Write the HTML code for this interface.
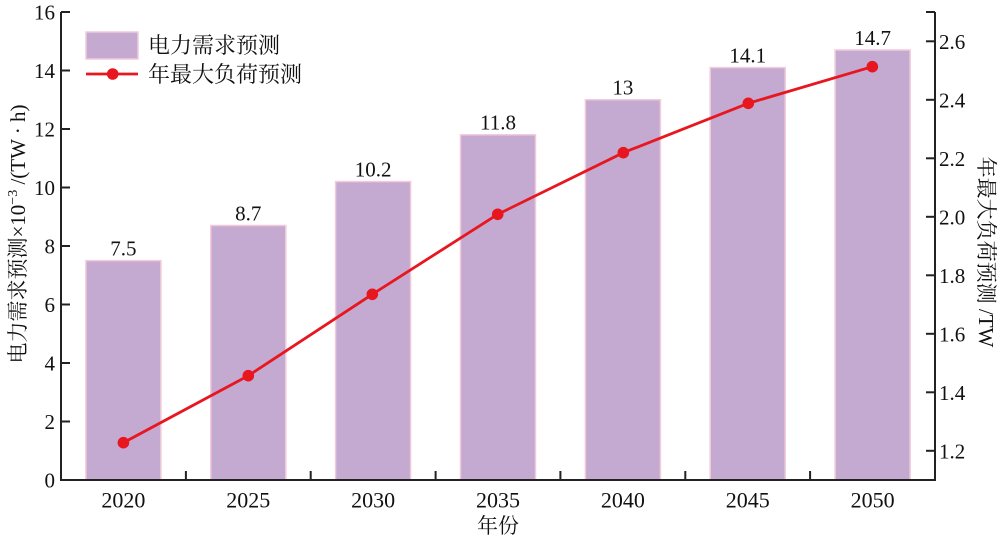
<!DOCTYPE html>
<html><head><meta charset="utf-8"><style>
html,body{margin:0;padding:0;background:#fff;}
svg{display:block;}
text{font-family:"Liberation Serif","Noto Serif CJK SC",serif;fill:#111;}
</style></head><body>
<svg width="1000" height="541" viewBox="0 0 1000 541" xmlns="http://www.w3.org/2000/svg">
<!-- bars -->
<g fill="#C4A9D1" stroke="#F2CADA" stroke-width="1.5">
<rect x="85.9" y="260.6" width="75" height="219.4"/>
<rect x="210.8" y="225.5" width="75" height="254.5"/>
<rect x="335.6" y="181.6" width="75" height="298.4"/>
<rect x="460.5" y="134.8" width="75" height="345.2"/>
<rect x="585.4" y="99.7" width="75" height="380.3"/>
<rect x="710.2" y="67.6" width="75" height="412.4"/>
<rect x="835.1" y="50.0" width="75" height="430"/>
</g>
<!-- bar labels -->
<g font-size="21" text-anchor="middle">
<text x="123.4" y="255.5">7.5</text>
<text x="248.3" y="220.3">8.7</text>
<text x="373.1" y="176.4">10.2</text>
<text x="498" y="129.6">11.8</text>
<text x="622.9" y="94.5">13</text>
<text x="747.7" y="62.4">14.1</text>
<text x="872.6" y="44.8">14.7</text>
</g>
<!-- line -->
<polyline fill="none" stroke="#E8161E" stroke-width="2.8" points="123.4,442.7 248.3,375.7 372.3,294.3 497.7,214.3 623.3,152.7 748.3,103.3 872.3,66.7"/>
<g fill="#E8161E">
<circle cx="123.4" cy="442.7" r="5.8"/>
<circle cx="248.3" cy="375.7" r="5.8"/>
<circle cx="372.3" cy="294.3" r="5.8"/>
<circle cx="497.7" cy="214.3" r="5.8"/>
<circle cx="623.3" cy="152.7" r="5.8"/>
<circle cx="748.3" cy="103.3" r="5.8"/>
<circle cx="872.3" cy="66.7" r="5.8"/>
</g>
<!-- axes -->
<g stroke="#222" stroke-width="2" fill="none">
<line x1="61" y1="12" x2="61" y2="481"/>
<line x1="935" y1="12" x2="935" y2="481"/>
<line x1="60" y1="480" x2="936" y2="480"/>
<!-- left ticks -->
<line x1="61" y1="12" x2="70" y2="12"/>
<line x1="61" y1="70.5" x2="70" y2="70.5"/>
<line x1="61" y1="129" x2="70" y2="129"/>
<line x1="61" y1="187.5" x2="70" y2="187.5"/>
<line x1="61" y1="246" x2="70" y2="246"/>
<line x1="61" y1="304.5" x2="70" y2="304.5"/>
<line x1="61" y1="363" x2="70" y2="363"/>
<line x1="61" y1="421.5" x2="70" y2="421.5"/>
<!-- right ticks -->
<line x1="926" y1="12" x2="935" y2="12"/>
<line x1="926" y1="41.3" x2="935" y2="41.3"/>
<line x1="926" y1="99.8" x2="935" y2="99.8"/>
<line x1="926" y1="158.3" x2="935" y2="158.3"/>
<line x1="926" y1="216.8" x2="935" y2="216.8"/>
<line x1="926" y1="275.3" x2="935" y2="275.3"/>
<line x1="926" y1="333.8" x2="935" y2="333.8"/>
<line x1="926" y1="392.3" x2="935" y2="392.3"/>
<line x1="926" y1="450.8" x2="935" y2="450.8"/>
<!-- x ticks -->
<line x1="185.9" y1="480" x2="185.9" y2="471"/>
<line x1="310.7" y1="480" x2="310.7" y2="471"/>
<line x1="435.6" y1="480" x2="435.6" y2="471"/>
<line x1="560.4" y1="480" x2="560.4" y2="471"/>
<line x1="685.3" y1="480" x2="685.3" y2="471"/>
<line x1="810.1" y1="480" x2="810.1" y2="471"/>
</g>
<!-- left tick labels -->
<g font-size="21" text-anchor="end">
<text x="55" y="19.5">16</text>
<text x="55" y="78">14</text>
<text x="55" y="136.5">12</text>
<text x="55" y="195">10</text>
<text x="55" y="253.5">8</text>
<text x="55" y="312">6</text>
<text x="55" y="370.5">4</text>
<text x="55" y="429">2</text>
<text x="55" y="487.5">0</text>
</g>
<!-- right tick labels -->
<g font-size="21" text-anchor="start">
<text x="939" y="48.8">2.6</text>
<text x="939" y="107.3">2.4</text>
<text x="939" y="165.8">2.2</text>
<text x="939" y="224.3">2.0</text>
<text x="939" y="282.8">1.8</text>
<text x="939" y="341.3">1.6</text>
<text x="939" y="399.8">1.4</text>
<text x="939" y="458.3">1.2</text>
</g>
<!-- x tick labels -->
<g font-size="22" text-anchor="middle">
<text x="123.4" y="507.5">2020</text>
<text x="248.3" y="507.5">2025</text>
<text x="373.1" y="507.5">2030</text>
<text x="498" y="507.5">2035</text>
<text x="622.9" y="507.5">2040</text>
<text x="747.7" y="507.5">2045</text>
<text x="872.6" y="507.5">2050</text>
</g>
<text x="498" y="533" font-size="21" text-anchor="middle">年份</text>
<!-- axis titles -->
<text transform="translate(25,234) rotate(-90)" font-size="21" text-anchor="middle" xml:space="preserve">电力需求预测×10<tspan font-size="14" dy="-8">−3</tspan><tspan dy="8"> /(TW · h)</tspan></text>
<text transform="translate(979,252) rotate(90)" font-size="21" text-anchor="middle" xml:space="preserve">年最大负荷预测 /TW</text>
<!-- legend -->
<rect x="86" y="32" width="52" height="27" fill="#C4A9D1" stroke="#F2CADA" stroke-width="1.5"/>
<text x="148" y="53" font-size="22">电力需求预测</text>
<line x1="86" y1="74" x2="138" y2="74" stroke="#E8161E" stroke-width="2.8"/>
<circle cx="112.7" cy="74" r="5.8" fill="#E8161E"/>
<text x="148" y="82" font-size="22">年最大负荷预测</text>
</svg>
</body></html>
